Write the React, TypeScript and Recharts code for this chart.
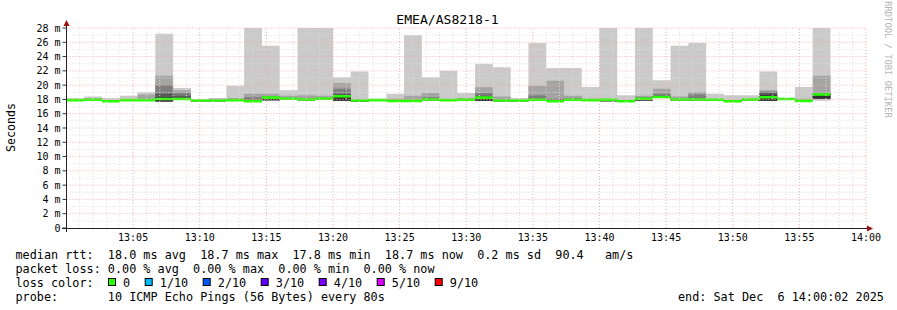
import { Area, ComposedChart, ReferenceLine, XAxis, YAxis } from "recharts";

const MONO = "'DejaVu Sans Mono', 'Liberation Mono', monospace";
const STEP_SECONDS = 80;
const MEDIAN_HALF = 0.18;

// per 80 s step, in ms (10 pings: min .. max)
const rttMax = [18.15, 18.4, 18.2, 18.5, 19.0, 27.2, 19.6, 18.0, 18.2, 19.9, 29.0, 25.5, 19.3, 29.0, 29.0, 21.1, 21.9, 18.1, 18.8, 27.0, 21.1, 22.0, 18.9, 23.0, 22.5, 18.2, 25.9, 22.4, 22.4, 19.75, 29.0, 18.6, 29.0, 20.7, 25.5, 25.9, 18.8, 18.6, 18.6, 21.9, 18.2, 19.75, 28.0];
const rttP9 = [17.9, 18.15, 17.75, 17.9, 18.7, 21.3, 19.3, 17.85, 18.1, 18.2, 18.8, 18.8, 18.5, 18.6, 18.5, 20.3, 17.85, 17.9, 18.1, 18.5, 18.9, 17.9, 18.2, 19.7, 18.4, 17.85, 19.9, 20.6, 18.5, 18.1, 17.95, 17.75, 18.5, 19.5, 18.4, 19.0, 17.95, 17.75, 18.0, 19.3, 18.05, 18.1, 21.3];
const rttP8 = [17.9, 17.95, 17.75, 17.9, 17.9, 20.0, 18.9, 17.85, 17.85, 17.9, 18.3, 18.4, 18.1, 18.0, 18.1, 19.5, 17.85, 17.9, 17.8, 17.8, 18.3, 17.9, 17.95, 18.9, 17.85, 17.85, 18.6, 18.1, 18.2, 17.9, 17.95, 17.75, 18.3, 18.8, 18.0, 18.7, 17.95, 17.75, 18.0, 19.1, 18.05, 17.8, 18.9];
const rttP7 = [17.9, 17.95, 17.75, 17.9, 17.9, 18.8, 18.5, 17.85, 17.85, 17.9, 17.75, 18.25, 18.1, 18.0, 18.1, 18.75, 17.85, 17.9, 17.8, 17.8, 18.0, 17.9, 17.95, 18.5, 17.85, 17.85, 17.95, 17.75, 17.95, 17.9, 17.95, 17.75, 18.1, 18.5, 18.0, 18.0, 17.95, 17.75, 18.0, 18.9, 18.05, 17.8, 18.8];
const rttP6 = [17.9, 17.95, 17.75, 17.9, 17.9, 18.3, 18.05, 17.85, 17.85, 17.9, 17.75, 18.25, 18.1, 18.0, 18.1, 18.45, 17.85, 17.9, 17.8, 17.8, 18.0, 17.9, 17.95, 18.3, 17.85, 17.85, 17.95, 17.75, 17.95, 17.9, 17.95, 17.75, 18.1, 18.35, 18.0, 18.0, 17.95, 17.75, 18.0, 18.6, 18.05, 17.8, 18.7];
const rttMedian = [17.9, 17.95, 17.75, 17.9, 17.9, 18.05, 18.05, 17.85, 17.85, 17.9, 17.75, 18.25, 18.1, 18.0, 18.1, 18.45, 17.85, 17.9, 17.8, 17.8, 18.0, 17.9, 17.95, 18.25, 17.85, 17.85, 17.95, 17.75, 17.95, 17.9, 17.95, 17.75, 18.1, 18.35, 18.0, 18.0, 17.95, 17.75, 18.0, 18.3, 18.05, 17.8, 18.7];
const rttLow = [17.8, 17.85, 17.65, 17.8, 17.8, 17.7, 17.95, 17.75, 17.75, 17.8, 17.65, 17.9, 18.0, 17.9, 18.0, 17.8, 17.7, 17.8, 17.7, 17.7, 17.9, 17.8, 17.85, 17.8, 17.75, 17.75, 17.85, 17.65, 17.85, 17.8, 17.75, 17.65, 17.85, 18.2, 17.9, 17.9, 17.85, 17.65, 17.9, 17.8, 17.95, 17.7, 18.1];
const rttMin = [17.8, 17.85, 17.65, 17.8, 17.8, 17.7, 17.95, 17.75, 17.75, 17.8, 17.65, 17.9, 18.0, 17.9, 18.0, 17.8, 17.7, 17.8, 17.7, 17.7, 17.9, 17.8, 17.85, 17.8, 17.75, 17.75, 17.85, 17.65, 17.85, 17.8, 17.75, 17.65, 17.85, 18.2, 17.9, 17.9, 17.85, 17.65, 17.9, 17.8, 17.95, 17.7, 17.8];

const xTickValues = [300, 600, 900, 1200, 1500, 1800, 2100, 2400, 2700, 3000, 3300, 3600];
const xTickLabels = ["13:05", "13:10", "13:15", "13:20", "13:25", "13:30", "13:35", "13:40", "13:45", "13:50", "13:55", "14:00"];
const yTickValues = [0, 2, 4, 6, 8, 10, 12, 14, 16, 18, 20, 22, 24, 26, 28];
const yTickLabels = ["0", "2 m", "4 m", "6 m", "8 m", "10 m", "12 m", "14 m", "16 m", "18 m", "20 m", "22 m", "24 m", "26 m", "28 m"];
const yMinorValues = [1, 3, 5, 7, 9, 11, 13, 15, 17, 19, 21, 23, 25, 27];

const lossLabels = ["0", "1/10", "2/10", "3/10", "4/10", "5/10", "9/10"];
const lossColors = ["#26ff00", "#00b8ff", "#0059ff", "#5e00ff", "#7e00ff", "#dd00ff", "#ff0000"];

const legendLines = [
    "median rtt:  18.0 ms avg  18.7 ms max  17.8 ms min  18.7 ms now  0.2 ms sd  90.4   am/s",
    "packet loss: 0.00 % avg  0.00 % max  0.00 % min  0.00 % now",
    "loss color:",
    "probe:       10 ICMP Echo Pings (56 Bytes) every 80s",
];
const endText = "end: Sat Dec  6 14:00:02 2025";

const smokeColors = ["#cacaca", "#a4a4a4", "#7e7e7e", "#585858", "#323232"];

const rows = rttMedian.map((median, i) => ({
    t: i * STEP_SECONDS,
    band1: [rttMin[i], rttMax[i]],
    band2: [rttLow[i], rttP9[i]],
    band3: [rttLow[i], rttP8[i]],
    band4: [rttLow[i], rttP7[i]],
    band5: [rttLow[i], rttP6[i]],
    median: [median - MEDIAN_HALF, median + MEDIAN_HALF],
}));
// closing point so the last step has a width
rows.push({ ...rows[rows.length - 1], t: rows.length * STEP_SECONDS });

const minuteLines: number[] = [];
for (let s = 60; s < 3600; s += 60) if (s % 300 !== 0) minuteLines.push(s);

const CHAR_W = 7.1;

const App = () => {
    let boxX = 108.5;
    const lossItems = lossLabels.map((label, i) => {
        const x = boxX;
        boxX = x + 14.6 + label.length * CHAR_W + 15;
        return (
            <g key={label}>
                <rect x={x} y={278.5} width={7} height={7} fill={lossColors[i]} stroke="#000" strokeWidth={1} />
                <text x={x + 14.6} y={286.7} fontFamily={MONO} fontSize={11.8}>
                    {label}
                </text>
            </g>
        );
    });

    return (
        <div style={{ position: "absolute", left: 0, top: 0, width: 897, height: 310, background: "#fff" }}>
            <ComposedChart width={897} height={310} data={rows} margin={{ top: 28, right: 31, bottom: 52, left: 0 }}>
                <XAxis
                    type="number"
                    dataKey="t"
                    domain={[0, 3600]}
                    ticks={xTickValues}
                    tickFormatter={(v: number) => xTickLabels[xTickValues.indexOf(v)] ?? ""}
                    axisLine={false}
                    tickLine={false}
                    tickSize={3}
                    tickMargin={3}
                    height={30}
                    interval={0}
                    tick={{ fontSize: 10, fontFamily: MONO, fill: "#000" }}
                />
                <YAxis
                    type="number"
                    domain={[0, 28]}
                    allowDataOverflow
                    ticks={yTickValues}
                    tickFormatter={(v: number) => yTickLabels[yTickValues.indexOf(v)] ?? ""}
                    axisLine={false}
                    tickLine={{ stroke: "#333" }}
                    tickSize={4}
                    tickMargin={2}
                    width={66.5}
                    interval={0}
                    tick={{ fontSize: 10, fontFamily: MONO, fill: "#000" }}
                />
                {["band1", "band2", "band3", "band4", "band5"].map((key, i) => (
                    <Area
                        key={key}
                        type="stepAfter"
                        dataKey={key}
                        fill={smokeColors[i]}
                        fillOpacity={1}
                        stroke="none"
                        dot={false}
                        activeDot={false}
                        isAnimationActive={false}
                    />
                ))}
                {minuteLines.map((s) => (
                    <ReferenceLine key={`vm${s}`} x={s} stroke="#dcdcdc" strokeDasharray="1 2" />
                ))}
                {yMinorValues.map((v) => (
                    <ReferenceLine key={`hm${v}`} y={v} stroke="#dcdcdc" strokeDasharray="1 2" />
                ))}
                {xTickValues.map((s) => (
                    <ReferenceLine key={`vM${s}`} x={s} stroke="#f2acac" strokeDasharray="1 2" />
                ))}
                {yTickValues.slice(1).map((v) => (
                    <ReferenceLine key={`hM${v}`} y={v} stroke="#f2acac" strokeDasharray="1 2" />
                ))}
                <Area
                    type="stepAfter"
                    dataKey="median"
                    fill={lossColors[0]}
                    fillOpacity={1}
                    stroke="none"
                    dot={false}
                    activeDot={false}
                    isAnimationActive={false}
                />
            </ComposedChart>

            <svg width={897} height={310} style={{ position: "absolute", left: 0, top: 0, pointerEvents: "none" }}>
                <line x1={62} y1={228.5} x2={868} y2={228.5} stroke="#222" />
                <polygon points="867,225.5 873,228.5 867,231.5" fill="#a01010" />
                <line x1={66.5} y1={232} x2={66.5} y2={25} stroke="#222" />
                <polygon points="63.5,26 66.5,20 69.5,26" fill="#a01010" />

                <text x={447.5} y={23.5} textAnchor="middle" fontFamily={MONO} fontSize={13.1}>
                    EMEA/AS8218-1
                </text>
                <text
                    transform="translate(15,127.5) rotate(-90)"
                    textAnchor="middle"
                    fontFamily={MONO}
                    fontSize={11.6}
                >
                    Seconds
                </text>
                <text
                    transform="translate(884.5,59.5) rotate(90)"
                    textAnchor="middle"
                    fontFamily={MONO}
                    fontSize={8.8}
                    fill="#b4b4b4"
                >
                    RRDTOOL / TOBI OETIKER
                </text>

                {legendLines.map((line, i) => (
                    <text
                        key={i}
                        x={15.5}
                        y={258.7 + i * 14}
                        fontFamily={MONO}
                        fontSize={11.8}
                        style={{ whiteSpace: "pre" }}
                    >
                        {line}
                    </text>
                ))}
                {lossItems}
                <text x={678} y={300.7} fontFamily={MONO} fontSize={11.8} style={{ whiteSpace: "pre" }}>
                    {endText}
                </text>
            </svg>
        </div>
    );
};

export default App;
